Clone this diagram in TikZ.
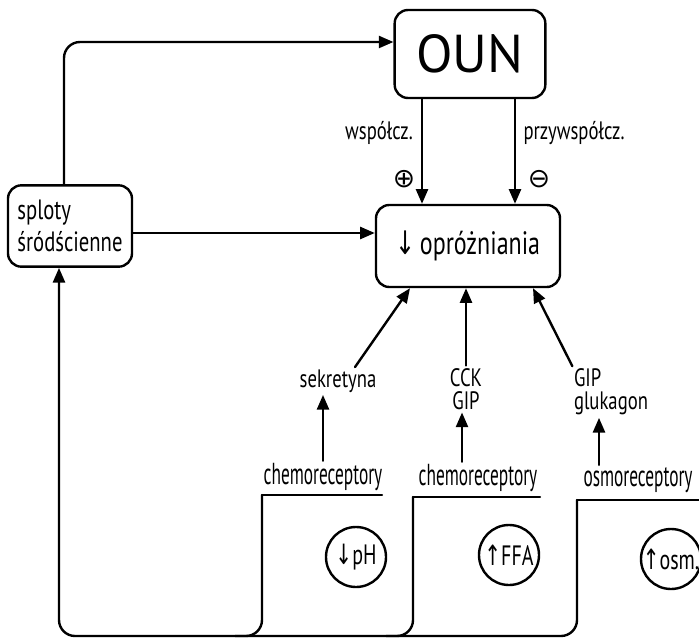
\documentclass[tikz,border=0pt]{standalone}
\usepackage{fontspec}
\setmainfont{PT Sans}
\newfontfamily\symfont{DejaVu Sans}
\usepackage{graphicx}
\usetikzlibrary{arrows.meta}
% tall, narrow lettering
\newcommand\hand[2][1.35]{\scalebox{1}[#1]{#2}}
\newcommand\dn{{\symfont ↓}}
\newcommand\up{{\symfont ↑}}

\begin{document}
\begin{tikzpicture}[x=0.75pt,y=-0.75pt,
  line width=1.8pt, line cap=round, line join=round,
  box/.style={draw, rounded corners=10pt, inner sep=0pt},
  arr/.style={-{Triangle[length=11pt,width=9pt]}},
  lbl/.style={inner sep=1pt, font=\fontsize{14}{16}\selectfont},
  rec/.style={inner sep=1pt, font=\fontsize{13}{15}\selectfont},
  ring/.style={draw, circle, minimum size=45pt, inner sep=0pt,
               font=\fontsize{15}{17}\selectfont},
  sign/.style={inner sep=0pt, font=\symfont\fontsize{20}{20}\selectfont}]
\useasboundingbox (0,0) rectangle (699,642);

% main boxes
\node[box, minimum width=113pt, minimum height=66pt,
      font=\fontsize{40}{40}\selectfont] (oun) at (470,54) {OUN};
\node[box, minimum width=138pt, minimum height=61.5pt,
      font=\fontsize{18}{20}\selectfont] (opr) at (468,246)
      {\hand{\dn\,opróżniania}};
\node[box, minimum width=93pt, minimum height=61pt,
      font=\fontsize{15.5}{17}\selectfont] (spl) at (70,226)
      {\hand[1.35]{\shortstack[l]{sploty\\śródścienne}}};

% helper positions
\coordinate (a1) at (422,0);
\coordinate (a2) at (515,0);
\coordinate (lx) at (64,42);
\coordinate (my) at (0,233);
\coordinate (e1) at (410,0);
\coordinate (e3) at (533,0);
\coordinate (v2) at (462,0);
\coordinate (v3) at (599,0);
\coordinate (bl) at (59,636);

% autonomic input
\draw[arr] (oun.south -| a1) -- (opr.north -| a1);
\draw[arr] (oun.south -| a2) -- (opr.north -| a2);
\node[lbl] (wsp) at (379,133) {\hand{współcz.}};
\node[lbl] (przy) at (574,133) {\hand{przywspółcz.}};
\node[sign] (plus) at (404,179) {⊕};
\node[sign] (minus) at (539,179) {⊖};

% enteric plexus
\draw[arr, rounded corners=12pt] (spl.north -| lx) |- (oun.west |- lx);
\draw[arr] (spl.east |- my) -- (opr.west |- my);

% hormones
\node[lbl] (sek) at (338,381) {\hand{sekretyna}};
\node[lbl] (cck) at (466,389) {\hand{\shortstack{CCK\\GIP}}};
\node[lbl] (gip) at (611,392) {\hand{\shortstack[l]{GIP\\glukagon}}};
\draw[arr] ([xshift=12.75pt]sek.north) -- (opr.south -| e1);
\draw[arr] (cck.north) -- (opr.south -| cck.north);
\draw[arr] ([xshift=-29pt]gip.north) -- (opr.south -| e3);

% receptors
\node[rec] (r1) at (323,477) {\hand[1.75]{chemoreceptory}};
\node[rec] (r2) at (478,478) {\hand[1.75]{chemoreceptory}};
\node[rec] (r3) at (638,480) {\hand[1.75]{osmoreceptory}};
\draw[arr] (r1.north) -- (r1.north |- sek.south);
\draw[arr] (r2.north -| v2) -- (cck.south -| v2);
\draw[arr] (r3.north -| v3) -- (gip.south -| v3);

\coordinate (u1l) at (262,495); \coordinate (u1r) at (382,495);
\coordinate (u2l) at (413,497); \coordinate (u2r) at (540,497);
\coordinate (u3l) at (577,500); \coordinate (u3r) at (699,500);
\draw (u1l) -- (u1r);
\draw (u2l) -- (u2r);
\draw (u3l) -- (u3r);

\node[ring] (c1) at (356,557) {\hand[1.4]{\dn pH}};
\node[ring] (c2) at (509,555) {\hand[1.4]{\up FFA}};
\node[ring] (c3) at (671,559) {\hand[1.4]{\up osm.}};

% feedback to the plexus
\draw[arr, rounded corners=12pt] (u3l) |- (bl) -- (spl.south -| bl);
\draw[rounded corners=12pt] (u1l) |- ([xshift=-20pt]u1l |- bl);
\draw[rounded corners=12pt] (u2l) |- ([xshift=-20pt]u2l |- bl);
\end{tikzpicture}
\end{document}
